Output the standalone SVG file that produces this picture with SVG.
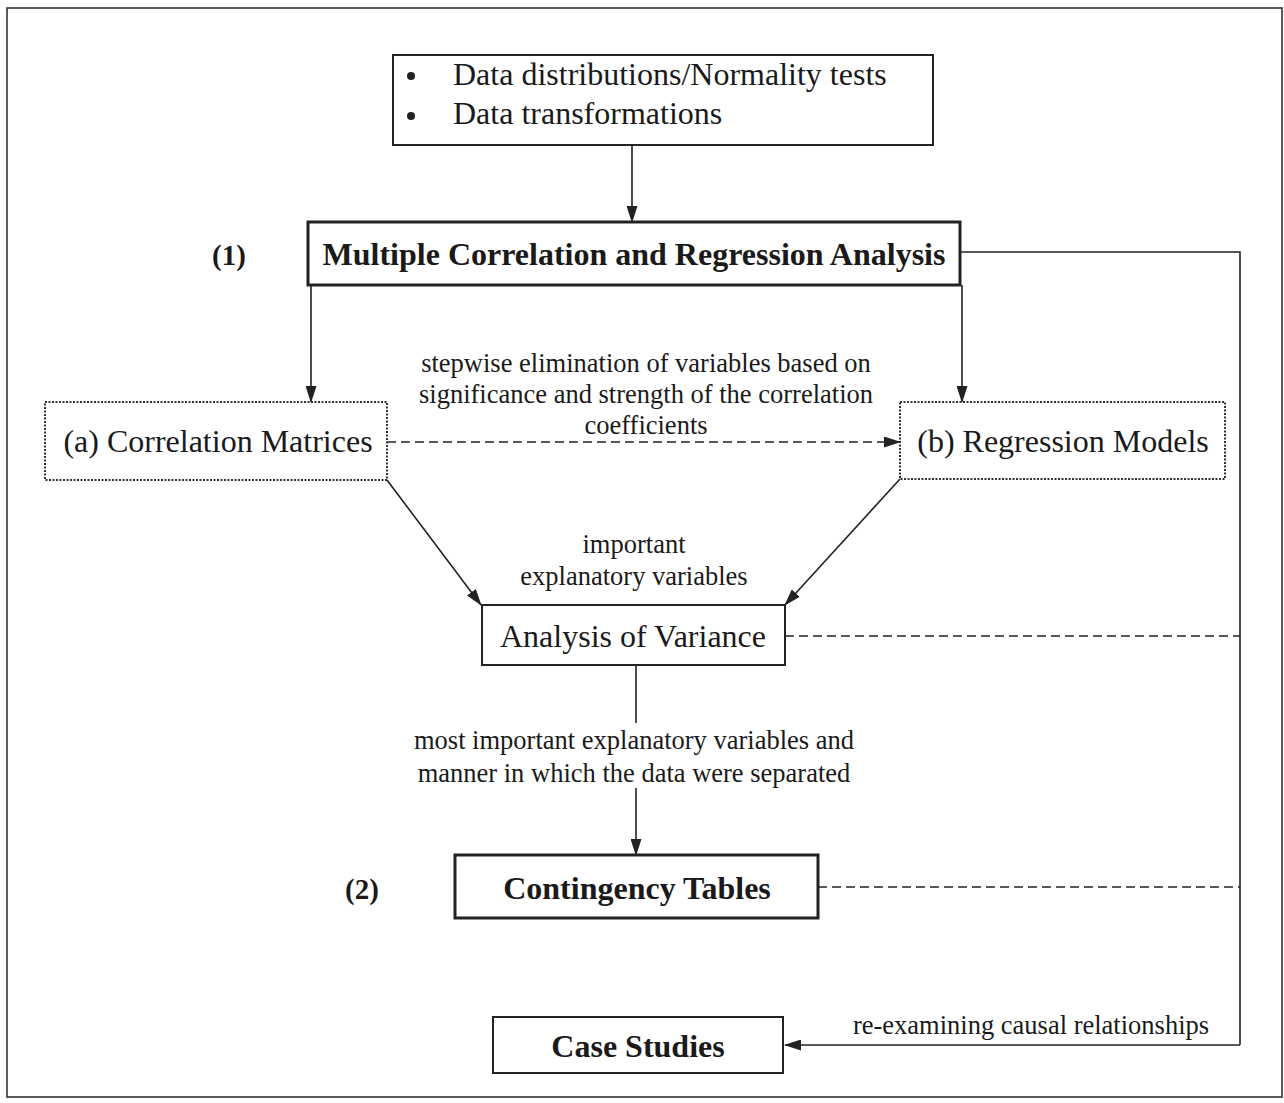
<svg xmlns="http://www.w3.org/2000/svg" width="1284" height="1103" viewBox="0 0 1284 1103">
<style>
text{font-family:"Liberation Serif","Times New Roman",serif;fill:#1a1a1a}
.big{font-size:32px}
.lbl{font-size:26.5px}
.b{font-weight:bold;font-size:32px}
.num{font-weight:bold;font-size:29px}
.box{fill:#fff;stroke:#222;stroke-width:2}
.thick{fill:#fff;stroke:#222;stroke-width:3}
.dot{fill:#fff;stroke:#333;stroke-width:2;stroke-dasharray:2 1.5}
.ln{fill:none;stroke:#222;stroke-width:1.6}
.dash{fill:none;stroke:#222;stroke-width:1.6;stroke-dasharray:9 5}
</style>
<defs>
<marker id="ah" markerWidth="17" markerHeight="11" refX="16" refY="5.5" orient="auto" markerUnits="userSpaceOnUse">
<path d="M0,0 L17,5.5 L0,11 Z" fill="#222"/>
</marker>
</defs>
<rect x="0" y="0" width="1284" height="1103" fill="#fff"/>
<rect x="7" y="8" width="1275" height="1089" fill="none" stroke="#333" stroke-width="1.6"/>

<g id="connectors">
<line class="ln" x1="632" y1="145" x2="632" y2="222" marker-end="url(#ah)"/>
<line class="ln" x1="311" y1="285" x2="311" y2="402" marker-end="url(#ah)"/>
<line class="ln" x1="962" y1="285" x2="962" y2="402" marker-end="url(#ah)"/>
<line class="dash" x1="387" y1="442" x2="900" y2="442" marker-end="url(#ah)"/>
<line class="ln" x1="387" y1="480" x2="481" y2="605" marker-end="url(#ah)"/>
<line class="ln" x1="900" y1="479" x2="785" y2="605" marker-end="url(#ah)"/>
<line class="ln" x1="636" y1="665" x2="636" y2="723"/>
<line class="ln" x1="636" y1="788" x2="636" y2="855" marker-end="url(#ah)"/>
<polyline class="ln" points="960,252 1240,252 1240,1045"/>
<line class="ln" x1="1240" y1="1045" x2="785" y2="1045" marker-end="url(#ah)"/>
<line class="dash" x1="785" y1="636" x2="1240" y2="636"/>
<line class="dash" x1="818" y1="887" x2="1240" y2="887"/>
<text class="lbl" x="646" y="372" text-anchor="middle">stepwise elimination of variables based on</text>
<text class="lbl" x="646" y="403" text-anchor="middle">significance and strength of the correlation</text>
<text class="lbl" x="646" y="434" text-anchor="middle">coefficients</text>
<text class="lbl" x="634" y="553" text-anchor="middle">important</text>
<text class="lbl" x="634" y="585" text-anchor="middle">explanatory variables</text>
<text class="lbl" x="634" y="749" text-anchor="middle">most important explanatory variables and</text>
<text class="lbl" x="634" y="782" text-anchor="middle">manner in which the data were separated</text>
<text class="lbl" x="1031" y="1034" text-anchor="middle">re-examining causal relationships</text>
</g>

<g id="inputs">
<rect class="box" x="393" y="55" width="540" height="90"/>
<circle cx="411" cy="76" r="4" fill="#222"/>
<circle cx="411" cy="116" r="4" fill="#222"/>
<text class="big" x="453" y="85">Data distributions/Normality tests</text>
<text class="big" x="453" y="124">Data transformations</text>
</g>

<g id="mcra">
<rect class="thick" x="308" y="222" width="652" height="63"/>
<text class="b" x="634" y="265" text-anchor="middle">Multiple Correlation and Regression Analysis</text>
<text class="num" x="229" y="265" text-anchor="middle">(1)</text>
</g>

<g id="correlation">
<rect class="dot" x="45" y="402" width="342" height="78"/>
<text class="big" x="218" y="452" text-anchor="middle">(a) Correlation Matrices</text>
</g>

<g id="regression">
<rect class="dot" x="900" y="402" width="325" height="77"/>
<text class="big" x="1063" y="452" text-anchor="middle">(b) Regression Models</text>
</g>

<g id="anova">
<rect class="box" x="482" y="605" width="303" height="60"/>
<text class="big" x="633" y="647" text-anchor="middle">Analysis of Variance</text>
</g>

<g id="contingency">
<rect class="thick" x="455" y="855" width="363" height="63"/>
<text class="b" x="637" y="899" text-anchor="middle">Contingency Tables</text>
<text class="num" x="362" y="899" text-anchor="middle">(2)</text>
</g>

<g id="case">
<rect class="box" x="493" y="1017" width="290" height="56"/>
<text class="b" x="638" y="1057" text-anchor="middle">Case Studies</text>
</g>
</svg>
